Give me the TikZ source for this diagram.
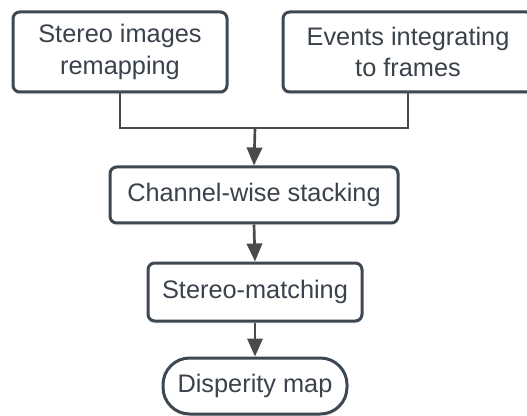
\documentclass[tikz,border=0pt]{standalone}
\usepackage{fontspec}
\setmainfont{Liberation Sans}
\usetikzlibrary{arrows.meta,shadows}

\definecolor{boxline}{RGB}{62,72,83}
\definecolor{boxtext}{RGB}{58,66,76}
\definecolor{linkline}{RGB}{72,74,77}

\tikzset{every picture/.style={line width=0.75pt}}
\tikzset{
  procbox/.style={draw=boxline, line width=2.25pt, fill=white, rounded corners=5pt,
    text=boxtext, align=center, inner sep=0pt, font=\fontsize{19}{23.5}\selectfont,
    drop shadow={opacity=0.12, shadow xshift=0pt, shadow yshift=-2pt}},
  endbox/.style={procbox, rounded corners=20pt},
  link/.style={draw=linkline, line width=2pt},
  linkarrow/.style={link, -{Triangle[length=13.5pt, width=11.5pt]}}
}

\begin{document}
\begin{tikzpicture}[x=0.75pt,y=0.75pt,yscale=-1,xscale=1]
\useasboundingbox (0,0) rectangle (527,416);

% Input boxes
\node [procbox, minimum width=160.5pt, minimum height=60pt] (remap) at (120,52) {Stereo images\\remapping};
\node [procbox, minimum width=187.5pt, minimum height=60pt] (events) at (408,52) {Events integrating\\to frames};

% Stacking
\node [procbox, minimum width=216pt, minimum height=42pt] (stack) at (254,195) {Channel-wise stacking};
% Matching
\node [procbox, minimum width=160.5pt, minimum height=43.5pt] (match) at (255,292) {Stereo-matching};
% Output
\node [endbox, minimum width=138pt, minimum height=42pt] (dmap) at (255,386) {Disperity map};

% Connectors
\coordinate (join) at (255,128);
\draw [link] (remap.south) |- (join) -| (events.south);
\draw [linkarrow] (join) -- (stack.north);
\draw [linkarrow] (stack.south) -- (match.north);
\draw [linkarrow] (match.south) -- (dmap.north);

\end{tikzpicture}
\end{document}
